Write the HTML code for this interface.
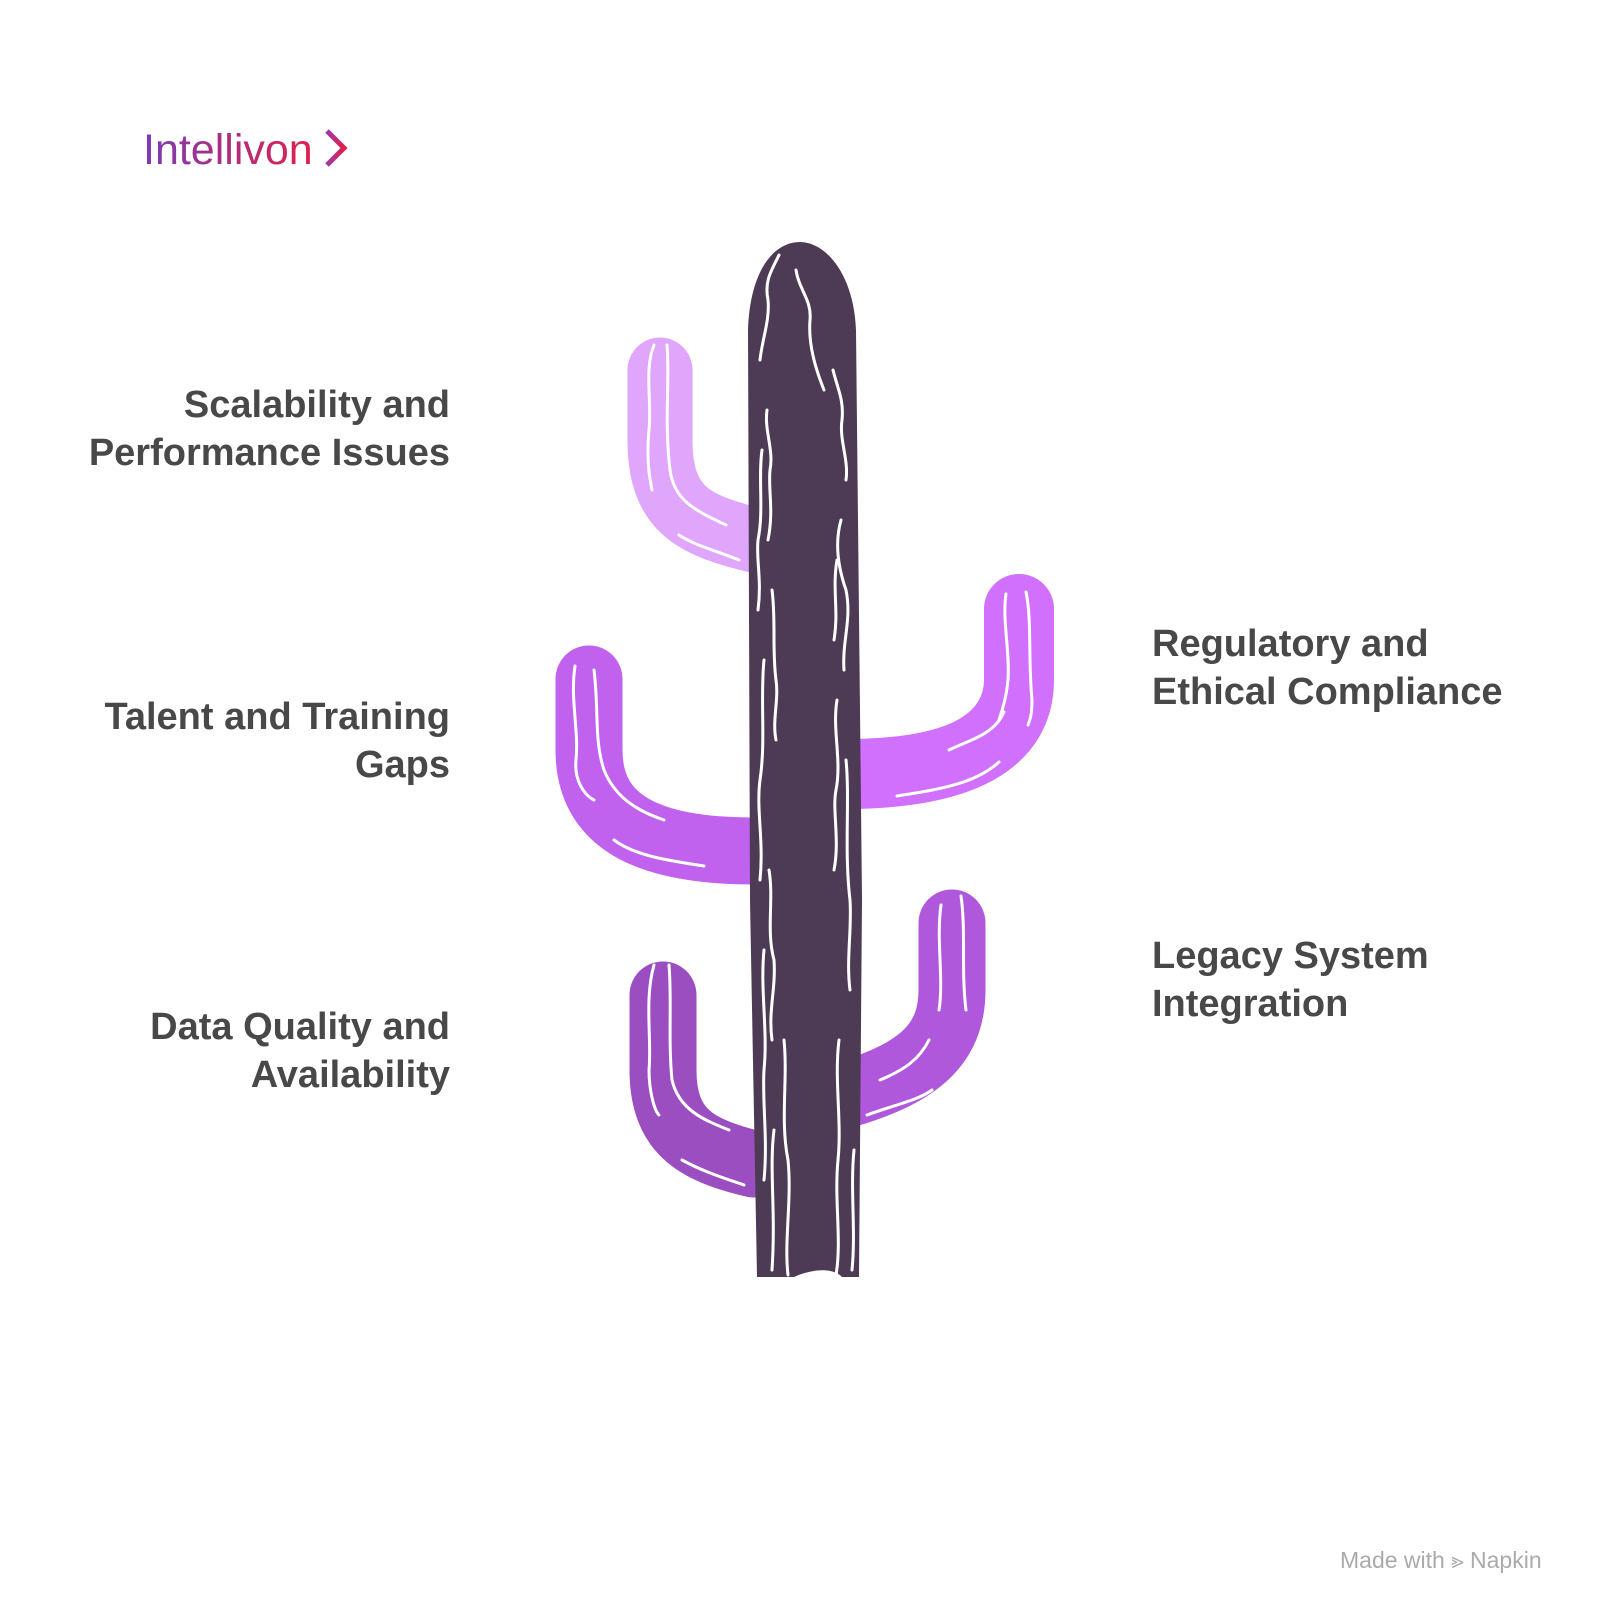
<!DOCTYPE html>
<html><head><meta charset="utf-8"><style>
html,body{margin:0;padding:0;background:#fff;}
body{width:1608px;height:1624px;position:relative;overflow:hidden;font-family:"Liberation Sans",sans-serif;}
.t{position:absolute;font-weight:bold;font-size:38px;line-height:48px;color:#484848;white-space:nowrap;}
.r{text-align:right;right:1158px;}
.l{left:1152px;}
</style></head><body>
<div style="position:absolute;left:143px;top:126px;font-size:43px;line-height:48px;background:linear-gradient(90deg,#7b3bb5,#e0204a);-webkit-background-clip:text;background-clip:text;color:transparent;">Intellivon</div>
<svg style="position:absolute;left:0;top:0" width="1608" height="1624">
<defs><linearGradient id="g"><stop offset="0" stop-color="#9b3aa8"/><stop offset="1" stop-color="#e0204a"/></linearGradient></defs>
<path d="M327 131 L344 148 L327 165" fill="none" stroke="url(#g)" stroke-width="5"/>
<g transform="translate(4,0)">
<g fill="none" stroke-linecap="round">
<path d="M750 540 C690 525 656 510 656 440 L656 370" stroke="#e0a6fc" stroke-width="65"/>
<path d="M750 851 C640 851 585 820 585 750 L585 679" stroke="#c062ee" stroke-width="67"/>
<path d="M750 1164 C690 1150 659 1130 659 1070 L659 995" stroke="#9b4ec0" stroke-width="67"/>
<path d="M850 774 C960 772 1015 740 1015 680 L1015 609" stroke="#d070fc" stroke-width="70"/>
<path d="M850 1092 C920 1070 948 1040 948 990 L948 923" stroke="#b058dc" stroke-width="67"/>
</g>
<path d="M744 330 C746 270 770 242 796 242 C822 242 850 275 852 330 L858 900 L855 1277 L838 1277 C830 1268 810 1268 790 1277 L753 1277 L746 900 Z" fill="#4d3b56"/>
<g fill="none" stroke="#fff" stroke-width="3" stroke-linecap="round">
<path d="M775 255 C768 270 760 280 764 300 C766 320 758 340 756 360"/>
<path d="M792 270 C795 290 808 300 806 320 C804 345 812 370 820 390"/>
<path d="M829 370 C834 390 840 400 838 420 C835 440 845 460 842 480"/>
<path d="M763 410 C760 430 770 450 766 470 C764 490 770 510 764 540"/>
<path d="M758 450 C754 480 760 510 754 540 C752 560 758 580 754 610"/>
<path d="M837 520 C830 545 835 570 842 590 C848 620 838 640 840 670"/>
<path d="M833 560 C828 590 835 610 830 640"/>
<path d="M768 590 C772 620 768 650 772 680 C775 700 768 720 772 740"/>
<path d="M760 660 C756 700 762 740 756 780 C752 810 760 840 756 880"/>
<path d="M833 700 C828 730 838 760 832 790 C828 810 836 840 830 870"/>
<path d="M842 760 C846 800 840 850 846 900 C848 930 842 960 846 990"/>
<path d="M765 870 C770 900 762 930 770 960 C772 990 764 1010 768 1040"/>
<path d="M760 950 C756 990 764 1030 760 1070 C758 1100 764 1140 760 1180"/>
<path d="M780 1040 C784 1080 776 1120 784 1160 C788 1200 780 1240 784 1275"/>
<path d="M835 1040 C830 1080 838 1120 834 1160 C830 1200 838 1240 832 1275"/>
<path d="M850 1150 C846 1190 852 1230 848 1270"/>
<path d="M770 1130 C765 1170 772 1210 768 1270"/>
<path d="M650 345 C640 370 648 400 645 430 C642 460 646 480 648 490"/>
<path d="M663 345 C666 380 660 420 666 470 C670 500 690 510 722 525"/>
<path d="M675 535 C690 545 710 550 735 560"/>
<path d="M571 666 C566 700 575 730 572 760 C570 780 580 795 590 800"/>
<path d="M590 670 C595 710 590 740 600 770 C610 795 630 810 660 820"/>
<path d="M610 840 C630 855 660 860 700 866"/>
<path d="M650 965 C640 1000 648 1040 645 1070 C645 1090 650 1110 655 1115"/>
<path d="M665 965 C668 1000 664 1040 668 1080 C675 1110 700 1120 725 1130"/>
<path d="M678 1160 C700 1172 720 1178 740 1185"/>
<path d="M1002 594 C998 620 1006 650 1004 680 C1002 700 998 710 995 720"/>
<path d="M1022 592 C1028 620 1024 660 1028 700 C1028 715 1026 720 1024 725"/>
<path d="M945 750 C965 740 990 735 1000 712"/>
<path d="M893 796 C930 790 970 785 995 762"/>
<path d="M937 905 C932 940 940 980 935 1010"/>
<path d="M957 896 C962 930 957 970 962 1010"/>
<path d="M876 1080 C900 1070 915 1060 925 1040"/>
<path d="M863 1115 C890 1105 915 1100 928 1090"/>
</g>
</g>
</svg>
<div class="t r" style="top:381px">Scalability and<br>Performance Issues</div>
<div class="t r" style="top:693px">Talent and Training<br>Gaps</div>
<div class="t r" style="top:1003px">Data Quality and<br>Availability</div>
<div class="t l" style="top:620px">Regulatory and<br>Ethical Compliance</div>
<div class="t l" style="top:932px">Legacy System<br>Integration</div>
<div style="position:absolute;left:1340px;top:1547px;font-size:23px;color:#aaa;">Made with <span style="font-size:22px">⪢</span> Napkin</div>
</body></html>
